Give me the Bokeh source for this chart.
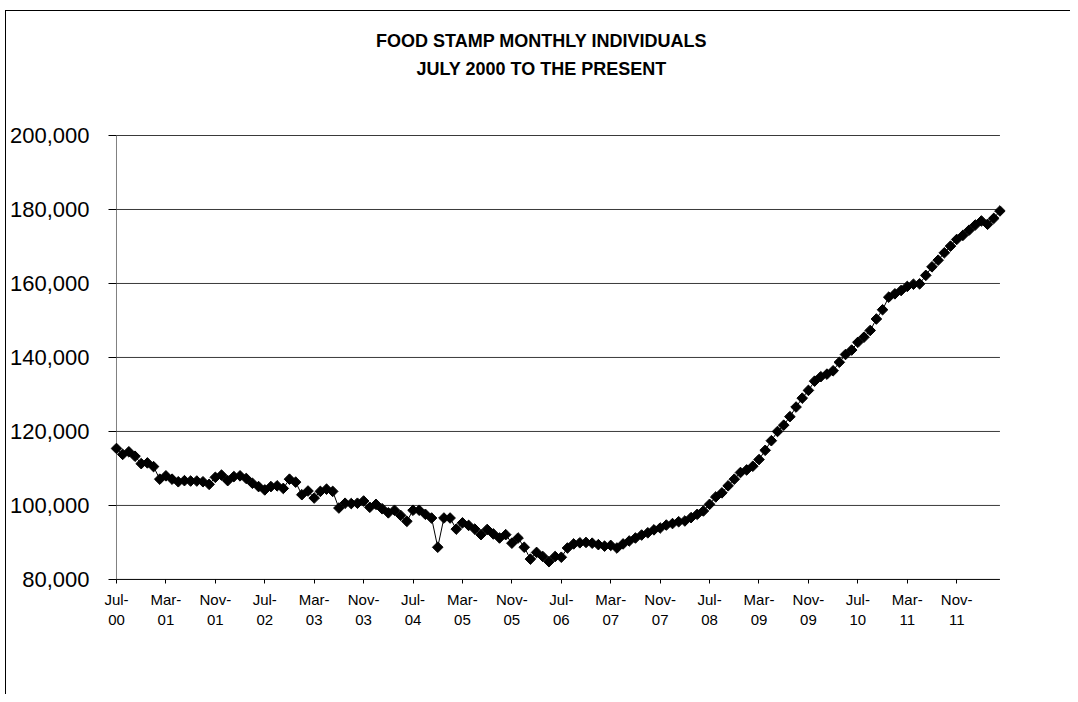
import math
from bokeh.plotting import figure
from bokeh.models import ColumnDataSource, FixedTicker, NumeralTickFormatter, Range1d
from bokeh.core.properties import value
from bokeh.embed import file_html
from bokeh.resources import INLINE

# ---- data -------------------------------------------------------------
title_lines = ["FOOD STAMP MONTHLY INDIVIDUALS", "JULY 2000 TO THE PRESENT"]

# monthly individuals, Jul-2000 .. Jun-2012
individuals = [
    115400, 113800, 114500, 113300, 111300, 111500, 110500, 107100, 108000, 107100,
    106400, 106700, 106600, 106600, 106400, 105700, 107600, 108200, 106700, 107800,
    108000, 107300, 106000, 105100, 104200, 105100, 105300, 104600, 107100, 106300,
    102900, 103900, 102000, 103800, 104400, 103800, 99300, 100600, 100500, 100600,
    101200, 99500, 100300, 99100, 98000, 98700, 97300, 95700, 98700, 98700,
    97600, 96600, 88700, 96600, 96600, 93600, 95300, 94600, 93600, 92100,
    93500, 92300, 91200, 92100, 89800, 91200, 88700, 85500, 87300, 86200,
    84800, 86200, 86000, 88500, 89600, 89900, 90000, 89800, 89400, 89000,
    89200, 88500, 89600, 90400, 91200, 92000, 92600, 93400, 93900, 94700,
    95100, 95600, 95800, 96700, 97600, 98500, 100300, 102300, 103400, 105300,
    107100, 108900, 109600, 110600, 112400, 114900, 117500, 120000, 121700, 124000,
    126600, 129000, 131100, 133600, 134800, 135500, 136400, 138700, 140800, 142000,
    144100, 145500, 147300, 150400, 152900, 156300, 157200, 158100, 159200, 159800,
    159900, 162200, 164500, 166300, 168300, 170100, 171900, 173000, 174400, 175800,
    176900, 176000, 177600, 179600,
]

tick_labels = ["Jul-\n00", "Mar-\n01", "Nov-\n01", "Jul-\n02", "Mar-\n03", "Nov-\n03",
               "Jul-\n04", "Mar-\n05", "Nov-\n05", "Jul-\n06", "Mar-\n07", "Nov-\n07",
               "Jul-\n08", "Mar-\n09", "Nov-\n09", "Jul-\n10", "Mar-\n11", "Nov-\n11"]
tick_step_months = 8
y_ticks = [80000, 100000, 120000, 140000, 160000, 180000, 200000]

# ---- build ------------------------------------------------------------
n = len(individuals)
month_index = list(range(n))
tick_positions = [k * tick_step_months for k in range(len(tick_labels))]
source = ColumnDataSource(data=dict(month=month_index, value=individuals))

FONT = "Liberation Sans"

border_css = {
    "background-color": "white",
    "background-image": "linear-gradient(black, black), linear-gradient(black, black)",
    "background-size": "1px 100%, 100% 1px",
    "background-position": "5px 10px, 5px 10px",
    "background-repeat": "no-repeat",
}

p = figure(width=1070, height=694, output_backend="svg", toolbar_location=None,
           x_range=Range1d(-0.97, n - 1 + 0.9), y_range=Range1d(78900, 231086),
           min_border_left=110, min_border_right=65, min_border_top=20, min_border_bottom=111,
           styles=border_css)

p.background_fill_color = None
p.border_fill_color = None
p.outline_line_color = None
p.xgrid.grid_line_color = None
p.ygrid.grid_line_color = None

p.yaxis.ticker = FixedTicker(ticks=y_ticks)
p.yaxis.formatter = NumeralTickFormatter(format="0,0")
p.yaxis.axis_line_color = None
p.yaxis.major_tick_out = 2
p.yaxis.major_tick_in = 6
p.yaxis.major_tick_line_color = "black"
p.yaxis.minor_tick_line_color = None
p.yaxis.major_label_standoff = 19
p.yaxis.major_label_text_font = FONT
p.yaxis.major_label_text_font_size = "22px"
p.yaxis.major_label_text_color = "black"

p.xaxis.ticker = FixedTicker(ticks=tick_positions)
p.xaxis.major_label_overrides = {pos: lab for pos, lab in zip(tick_positions, tick_labels)}
p.xaxis.axis_line_color = None
p.xaxis.major_tick_out = 0
p.xaxis.major_tick_in = 4
p.xaxis.major_tick_line_color = "black"
p.xaxis.minor_tick_line_color = None
p.xaxis.major_label_standoff = 7
p.xaxis.major_label_text_font = FONT
p.xaxis.major_label_text_font_size = "15px"
p.xaxis.major_label_text_color = "black"
p.xaxis.major_label_text_align = "center"

# horizontal grid lines and axis lines spanning only the data extent
grid_vals = y_ticks[1:]
p.segment(x0=[0] * len(grid_vals), x1=[n - 1] * len(grid_vals), y0=grid_vals, y1=grid_vals,
          line_color="#3a3a3a", line_width=1)
p.segment(x0=[0], x1=[0], y0=[y_ticks[0]], y1=[y_ticks[-1]], line_color="#808080", line_width=1)
p.segment(x0=[0], x1=[n - 1], y0=[y_ticks[0]], y1=[y_ticks[0]], line_color="black", line_width=1)

p.line("month", "value", source=source, line_color="black", line_width=1)
p.scatter("month", "value", source=source, marker="square", size=7.5, angle=math.pi / 4,
          fill_color="black", line_color="black")

# titles, placed in data space above the 200,000 line
p.text(x=[68.8, 68.8], y=[225410, 218110], text=title_lines,
       text_align="center", text_baseline="middle",
       text_font=value(FONT), text_font_size=value("18px"), text_font_style="bold",
       text_color="black")

open("out.html", "w").write(file_html(p, INLINE))
